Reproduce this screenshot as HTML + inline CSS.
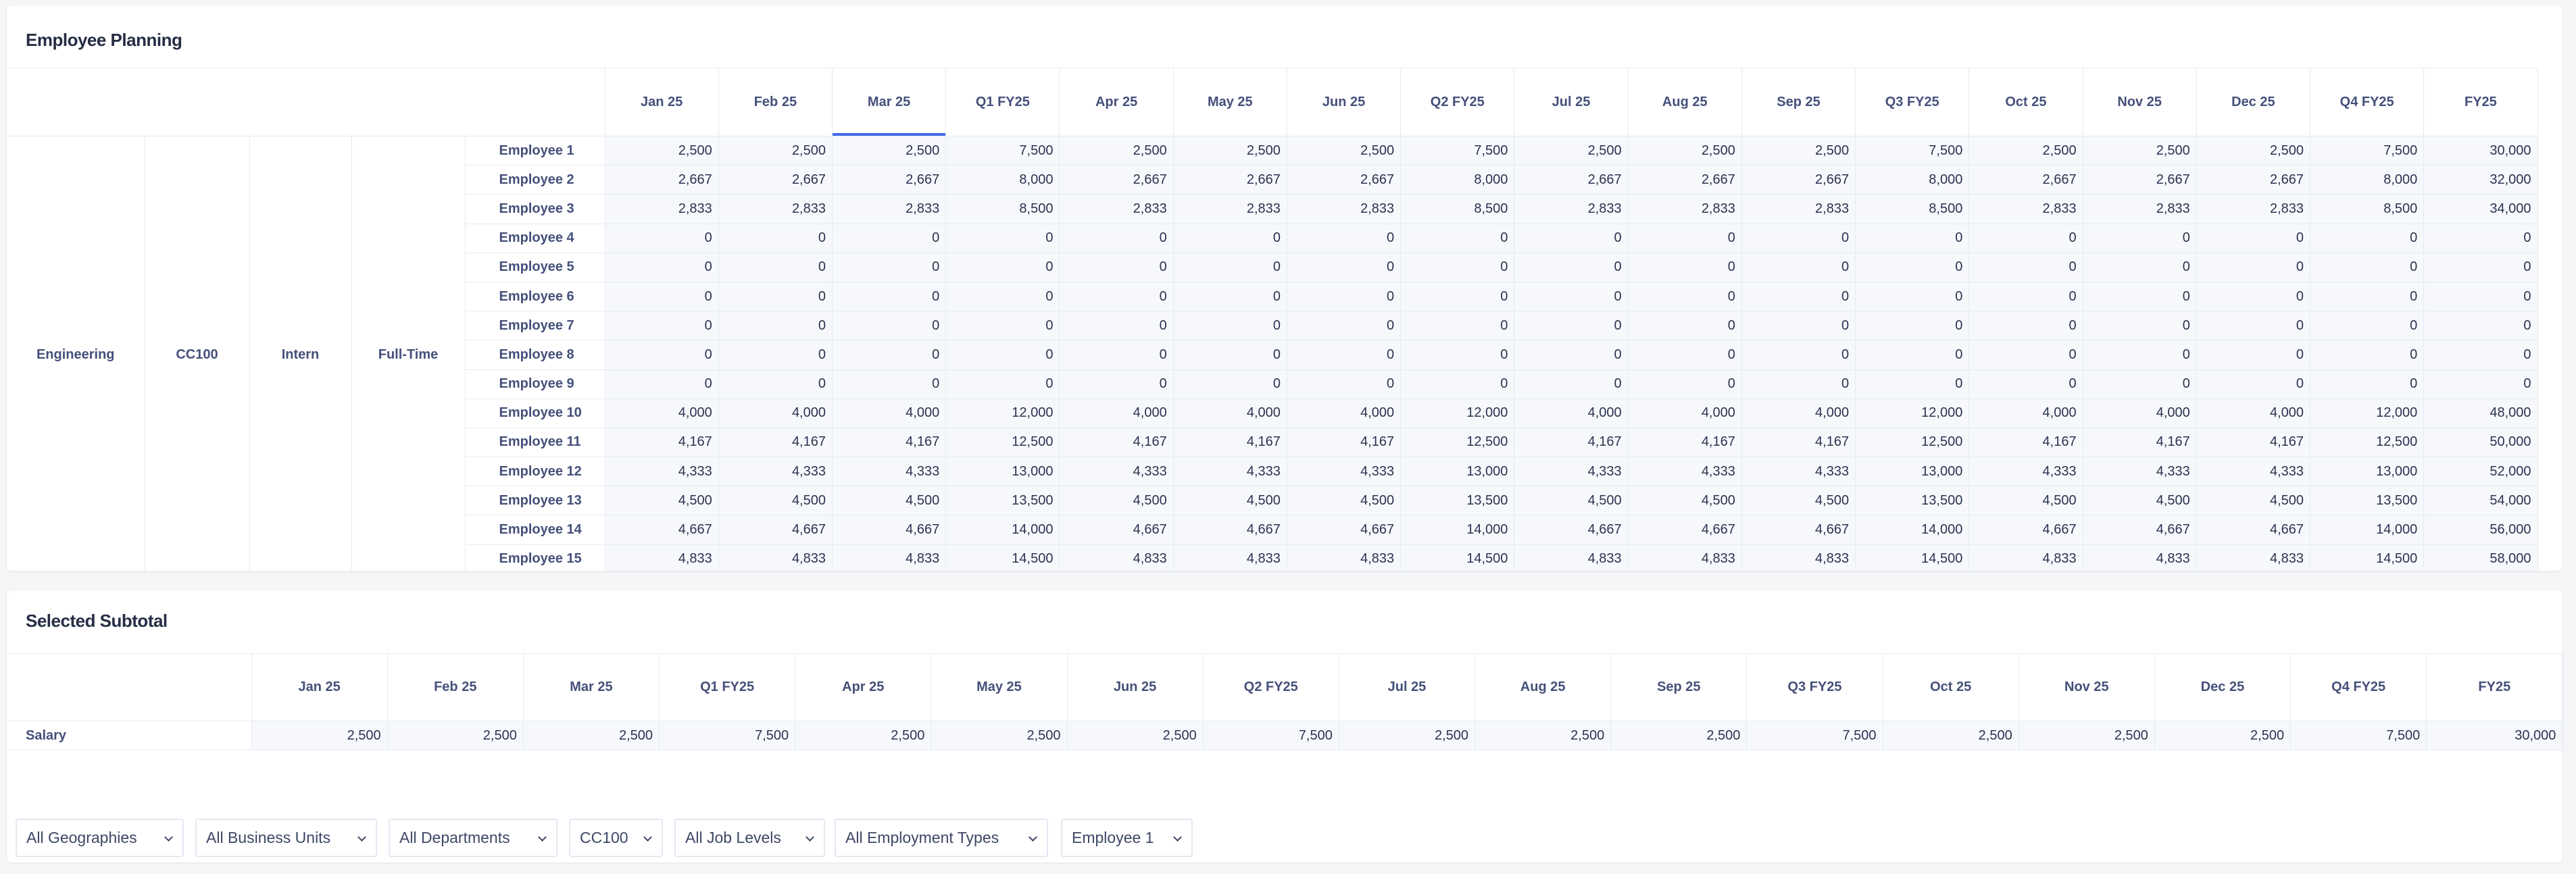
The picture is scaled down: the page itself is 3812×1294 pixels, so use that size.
<!DOCTYPE html>
<html><head><meta charset="utf-8"><style>
*{box-sizing:border-box;margin:0;padding:0}
body{width:3812px;height:1294px;background:#f5f6f8;font-family:"Liberation Sans",sans-serif;color:#2b3350;position:relative;overflow:hidden}
.panel{position:absolute;left:10px;width:3782px;background:#fff;border-radius:8px;box-shadow:0 1px 4px rgba(0,0,0,.08);overflow:hidden}
.title{position:absolute;left:28px;font-size:26px;font-weight:bold;color:#262d45;letter-spacing:-0.5px}
table{border-collapse:collapse;table-layout:fixed;position:absolute;left:0}
td,th{border:1px solid #e6eaf3;font-size:20px;white-space:nowrap;overflow:hidden}
th{font-weight:bold;color:#45507a;text-align:center;background:#fff}
td{text-align:right;padding-right:9px;background:#f6f8fc;color:#2b3350}
td.l{background:#fff;text-align:center;font-weight:bold;color:#45507a;padding:0}
td.e{background:#fff;text-align:left;font-weight:bold;color:#45507a;padding-left:50px}
th.sel{box-shadow:inset 0 -4px 0 #3f6ae6}
.t1 tr.r td{height:43.2px}
.btn{position:absolute;top:1212px;height:57px;border:2px solid #e3e8f2;border-radius:4px;background:#fff;font-size:23px;color:#3d4766;line-height:53px;padding-left:14px;white-space:nowrap}
.btn:after{content:"";position:absolute;right:16px;top:21px;width:7px;height:7px;border-right:2.5px solid #3d4766;border-bottom:2.5px solid #3d4766;transform:rotate(45deg)}
</style></head><body>
<div class="panel" style="top:8px;height:837px">
<div class="title" style="top:36px">Employee Planning</div>
<table class="t1" style="top:92px;width:3745px">
<colgroup><col style="width:204px"><col style="width:155px"><col style="width:151px"><col style="width:168px"><col style="width:207px"><col span="17" style="width:168.24px"></colgroup>
<tr style="height:101px"><th colspan="5" style="border-left:none"></th><th>Jan 25</th><th>Feb 25</th><th class="sel">Mar 25</th><th>Q1 FY25</th><th>Apr 25</th><th>May 25</th><th>Jun 25</th><th>Q2 FY25</th><th>Jul 25</th><th>Aug 25</th><th>Sep 25</th><th>Q3 FY25</th><th>Oct 25</th><th>Nov 25</th><th>Dec 25</th><th>Q4 FY25</th><th>FY25</th></tr>
<tr class="r"><td class="l" rowspan="15" style="border-left:none">Engineering</td><td class="l" rowspan="15">CC100</td><td class="l" rowspan="15">Intern</td><td class="l" rowspan="15">Full-Time</td><td class="e">Employee 1</td><td>2,500</td><td>2,500</td><td>2,500</td><td>7,500</td><td>2,500</td><td>2,500</td><td>2,500</td><td>7,500</td><td>2,500</td><td>2,500</td><td>2,500</td><td>7,500</td><td>2,500</td><td>2,500</td><td>2,500</td><td>7,500</td><td>30,000</td></tr>
<tr class="r"><td class="e">Employee 2</td><td>2,667</td><td>2,667</td><td>2,667</td><td>8,000</td><td>2,667</td><td>2,667</td><td>2,667</td><td>8,000</td><td>2,667</td><td>2,667</td><td>2,667</td><td>8,000</td><td>2,667</td><td>2,667</td><td>2,667</td><td>8,000</td><td>32,000</td></tr>
<tr class="r"><td class="e">Employee 3</td><td>2,833</td><td>2,833</td><td>2,833</td><td>8,500</td><td>2,833</td><td>2,833</td><td>2,833</td><td>8,500</td><td>2,833</td><td>2,833</td><td>2,833</td><td>8,500</td><td>2,833</td><td>2,833</td><td>2,833</td><td>8,500</td><td>34,000</td></tr>
<tr class="r"><td class="e">Employee 4</td><td>0</td><td>0</td><td>0</td><td>0</td><td>0</td><td>0</td><td>0</td><td>0</td><td>0</td><td>0</td><td>0</td><td>0</td><td>0</td><td>0</td><td>0</td><td>0</td><td>0</td></tr>
<tr class="r"><td class="e">Employee 5</td><td>0</td><td>0</td><td>0</td><td>0</td><td>0</td><td>0</td><td>0</td><td>0</td><td>0</td><td>0</td><td>0</td><td>0</td><td>0</td><td>0</td><td>0</td><td>0</td><td>0</td></tr>
<tr class="r"><td class="e">Employee 6</td><td>0</td><td>0</td><td>0</td><td>0</td><td>0</td><td>0</td><td>0</td><td>0</td><td>0</td><td>0</td><td>0</td><td>0</td><td>0</td><td>0</td><td>0</td><td>0</td><td>0</td></tr>
<tr class="r"><td class="e">Employee 7</td><td>0</td><td>0</td><td>0</td><td>0</td><td>0</td><td>0</td><td>0</td><td>0</td><td>0</td><td>0</td><td>0</td><td>0</td><td>0</td><td>0</td><td>0</td><td>0</td><td>0</td></tr>
<tr class="r"><td class="e">Employee 8</td><td>0</td><td>0</td><td>0</td><td>0</td><td>0</td><td>0</td><td>0</td><td>0</td><td>0</td><td>0</td><td>0</td><td>0</td><td>0</td><td>0</td><td>0</td><td>0</td><td>0</td></tr>
<tr class="r"><td class="e">Employee 9</td><td>0</td><td>0</td><td>0</td><td>0</td><td>0</td><td>0</td><td>0</td><td>0</td><td>0</td><td>0</td><td>0</td><td>0</td><td>0</td><td>0</td><td>0</td><td>0</td><td>0</td></tr>
<tr class="r"><td class="e">Employee 10</td><td>4,000</td><td>4,000</td><td>4,000</td><td>12,000</td><td>4,000</td><td>4,000</td><td>4,000</td><td>12,000</td><td>4,000</td><td>4,000</td><td>4,000</td><td>12,000</td><td>4,000</td><td>4,000</td><td>4,000</td><td>12,000</td><td>48,000</td></tr>
<tr class="r"><td class="e">Employee 11</td><td>4,167</td><td>4,167</td><td>4,167</td><td>12,500</td><td>4,167</td><td>4,167</td><td>4,167</td><td>12,500</td><td>4,167</td><td>4,167</td><td>4,167</td><td>12,500</td><td>4,167</td><td>4,167</td><td>4,167</td><td>12,500</td><td>50,000</td></tr>
<tr class="r"><td class="e">Employee 12</td><td>4,333</td><td>4,333</td><td>4,333</td><td>13,000</td><td>4,333</td><td>4,333</td><td>4,333</td><td>13,000</td><td>4,333</td><td>4,333</td><td>4,333</td><td>13,000</td><td>4,333</td><td>4,333</td><td>4,333</td><td>13,000</td><td>52,000</td></tr>
<tr class="r"><td class="e">Employee 13</td><td>4,500</td><td>4,500</td><td>4,500</td><td>13,500</td><td>4,500</td><td>4,500</td><td>4,500</td><td>13,500</td><td>4,500</td><td>4,500</td><td>4,500</td><td>13,500</td><td>4,500</td><td>4,500</td><td>4,500</td><td>13,500</td><td>54,000</td></tr>
<tr class="r"><td class="e">Employee 14</td><td>4,667</td><td>4,667</td><td>4,667</td><td>14,000</td><td>4,667</td><td>4,667</td><td>4,667</td><td>14,000</td><td>4,667</td><td>4,667</td><td>4,667</td><td>14,000</td><td>4,667</td><td>4,667</td><td>4,667</td><td>14,000</td><td>56,000</td></tr>
<tr class="r"><td class="e">Employee 15</td><td>4,833</td><td>4,833</td><td>4,833</td><td>14,500</td><td>4,833</td><td>4,833</td><td>4,833</td><td>14,500</td><td>4,833</td><td>4,833</td><td>4,833</td><td>14,500</td><td>4,833</td><td>4,833</td><td>4,833</td><td>14,500</td><td>58,000</td></tr>
</table>
</div>

<div class="panel" style="top:874px;height:403px">
<div class="title" style="top:30px">Selected Subtotal</div>
<table style="top:93px;width:3782px">
<colgroup><col style="width:362px"><col span="17" style="width:201.18px"></colgroup>
<tr style="height:100px"><th style="border-left:none"></th><th>Jan 25</th><th>Feb 25</th><th>Mar 25</th><th>Q1 FY25</th><th>Apr 25</th><th>May 25</th><th>Jun 25</th><th>Q2 FY25</th><th>Jul 25</th><th>Aug 25</th><th>Sep 25</th><th>Q3 FY25</th><th>Oct 25</th><th>Nov 25</th><th>Dec 25</th><th>Q4 FY25</th><th>FY25</th></tr>
<tr style="height:43px"><td class="e" style="padding-left:28px;border-left:none">Salary</td><td>2,500</td><td>2,500</td><td>2,500</td><td>7,500</td><td>2,500</td><td>2,500</td><td>2,500</td><td>7,500</td><td>2,500</td><td>2,500</td><td>2,500</td><td>7,500</td><td>2,500</td><td>2,500</td><td>2,500</td><td>7,500</td><td>30,000</td></tr>
</table>
</div>

<div class="btn" style="left:23px;width:249px">All Geographies</div>
<div class="btn" style="left:289px;width:269px">All Business Units</div>
<div class="btn" style="left:575px;width:250px">All Departments</div>
<div class="btn" style="left:842px;width:139px">CC100</div>
<div class="btn" style="left:998px;width:223px">All Job Levels</div>
<div class="btn" style="left:1235px;width:316px">All Employment Types</div>
<div class="btn" style="left:1570px;width:195px">Employee 1</div>
</body></html>
